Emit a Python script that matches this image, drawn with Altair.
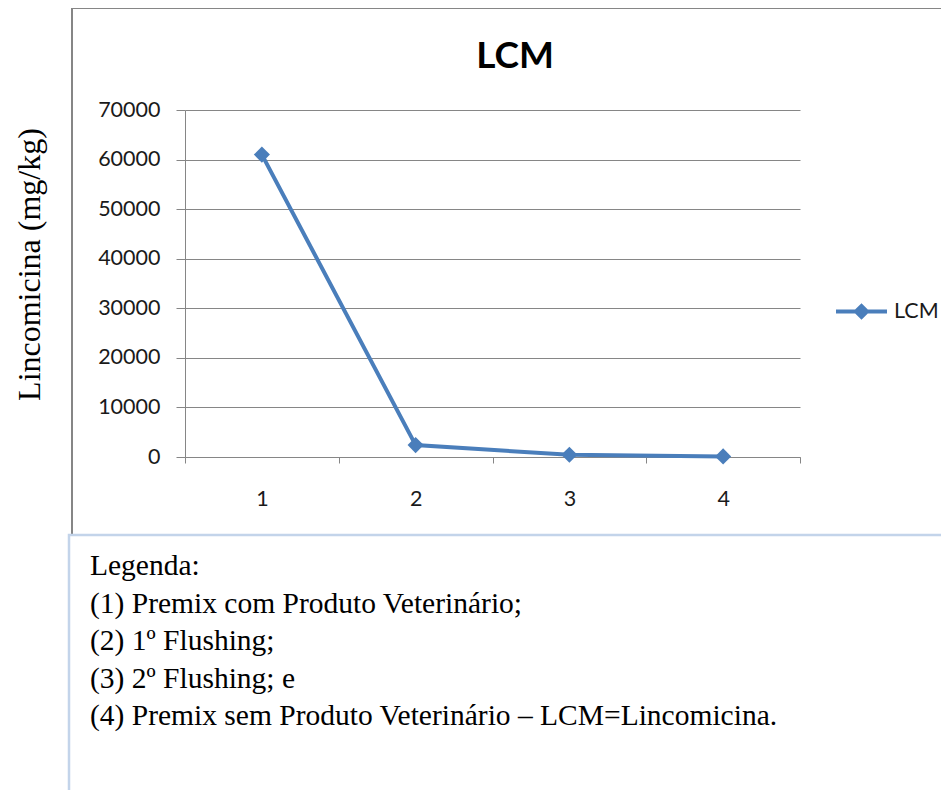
import altair as alt
import pandas as pd

categories = ["1", "2", "3", "4"]
values = [61000, 2400, 450, 120]
series_name = "LCM"
y_ticks = [0, 10000, 20000, 30000, 40000, 50000, 60000, 70000]
y_title = "Lincomicina (mg/kg)"
chart_title = "LCM"
legend_lines = [
    "Legenda:",
    "(1) Premix com Produto Veterinário;",
    "(2) 1º Flushing;",
    "(3) 2º Flushing; e",
    "(4) Premix sem Produto Veterinário – LCM=Lincomicina.",
]

df = pd.DataFrame({"cat": categories, "val": values, "serie": [series_name] * len(categories)})

BLUE = "#4a7ebb"
GRAY = "#868686"
TXT = "#1a1a1a"
SANS = "Lato"
SERIF = "Liberation Serif"

x_enc = alt.X(
    "cat:O",
    sort=categories,
    scale=alt.Scale(type="band", paddingInner=0, paddingOuter=0),
    axis=alt.Axis(
        title=None, labelAngle=0, tickBand="extent", grid=False,
        domainColor=GRAY, tickColor=GRAY, tickSize=6, labelPadding=25,
        labelFont=SANS, labelFontSize=21.5, labelColor=TXT,
    ),
)
y_enc = alt.Y(
    "val:Q",
    scale=alt.Scale(domain=[0, 70000], nice=False, zero=True),
    axis=alt.Axis(
        values=y_ticks, format="d", grid=True, gridColor=GRAY, domainColor=GRAY,
        tickColor=GRAY, tickSize=9, labelPadding=16, labelFont=SANS,
        labelFontSize=21.5, labelColor=TXT,
        title=y_title, titleFont=SERIF, titleFontSize=32, titleFontWeight="normal",
        titleColor="#000000", titleX=-156, titleY=154, titleAngle=270,
        titleAlign="center", titleBaseline="middle",
    ),
)

line = alt.Chart(df).mark_line(strokeWidth=4).encode(
    x=x_enc,
    y=y_enc,
    color=alt.Color(
        "serie:N",
        scale=alt.Scale(domain=[series_name], range=[BLUE]),
        legend=alt.Legend(
            title=None, orient="none", legendX=649, legendY=174, padding=0,
            symbolType="M-1,0H1M-0.216,0L0,-0.216L0.216,0L0,0.216Z",
            symbolSize=2601, symbolStrokeWidth=4, symbolStrokeColor=BLUE,
            symbolFillColor=BLUE, labelOffset=5, labelFont=SANS,
            labelFontSize=21.5, labelColor=TXT,
        ),
    ),
)

points = alt.Chart(df).mark_point(shape="diamond", filled=True, size=260, opacity=1, color=BLUE).encode(
    x=alt.X("cat:O", sort=categories),
    y="val:Q",
)

one = alt.Data(values=[{"k": 1}])

frame = alt.Chart(one).mark_rect(filled=False, stroke=GRAY, strokeWidth=2).encode(
    x=alt.value(-113), x2=alt.value(790), y=alt.value(-102), y2=alt.value(425)
)
title = alt.Chart(one).mark_text(
    align="center", baseline="alphabetic", font=SANS, fontSize=37, fontWeight="bold", color="#000000"
).encode(x=alt.value(330), y=alt.value(-42), text=alt.value(chart_title))
box = alt.Chart(one).mark_rect(fill="white", stroke="#c3d4ea", strokeWidth=2.5).encode(
    x=alt.value(-116), x2=alt.value(790), y=alt.value(425), y2=alt.value(720)
)
notes = alt.Chart(one).mark_text(
    align="left", baseline="alphabetic", font=SERIF, fontSize=29.5, lineHeight=37.5, color="#000000"
).encode(x=alt.value(-95), y=alt.value(465), text=alt.value(legend_lines))

chart = alt.layer(frame, title, box, notes, line, points).properties(
    width=615,
    height=347,
    padding={"left": 177, "top": 102, "right": 141, "bottom": 333},
    autosize=alt.AutoSizeParams(type="none"),
).configure_view(stroke=None)

chart.save("out.html", embed_options={"renderer": "svg", "actions": False})
